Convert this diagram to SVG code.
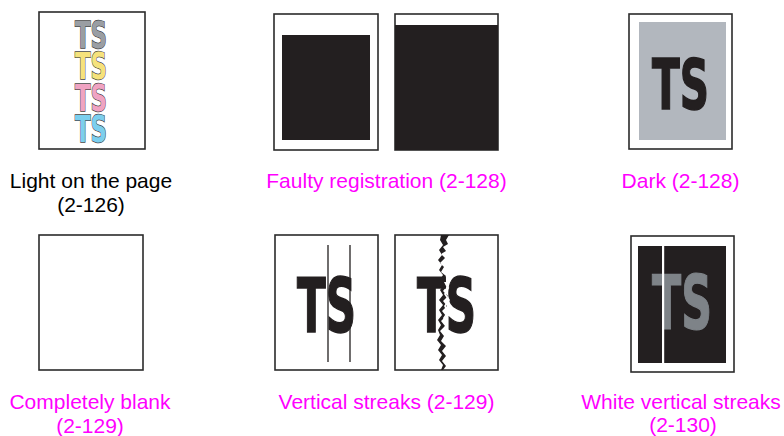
<svg xmlns="http://www.w3.org/2000/svg" width="784" height="436" viewBox="0 0 784 436">
<style>
.page{fill:#fff;stroke:#2b2b2b;stroke-width:1.6}
.blk{fill:#231f20}
.lbl{font-family:"Liberation Sans",Arial,sans-serif;font-size:21px;text-anchor:middle}
.mag{fill:#ff00ff}
.dark{fill:#000}
.ts{font-family:"DejaVu Sans","Liberation Sans",sans-serif;font-weight:bold;font-stretch:condensed}
.tso{stroke:#454545;stroke-width:1.3;paint-order:stroke}
</style>
<rect width="784" height="436" fill="#fff"/>

<g id="light">
<rect class="page" x="39" y="12" width="106" height="137"/>
<text class="ts tso" font-size="37"><tspan x="75" y="48" textLength="32" lengthAdjust="spacingAndGlyphs" fill="#9a9ea3">TS</tspan><tspan x="75" y="78.5" textLength="32" lengthAdjust="spacingAndGlyphs" fill="#f6e27c">TS</tspan><tspan x="75" y="111" textLength="32" lengthAdjust="spacingAndGlyphs" fill="#f0a3c2">TS</tspan><tspan x="75" y="142" textLength="32" lengthAdjust="spacingAndGlyphs" fill="#7ccfee">TS</tspan></text>
<text class="lbl dark" x="91" y="188">Light on the page</text>
<text class="lbl dark" x="91" y="212">(2-126)</text>
</g>

<g id="faulty">
<rect class="page" x="274" y="14" width="104" height="136"/>
<rect class="blk" x="282" y="35" width="88" height="105"/>
<rect class="page" x="395" y="14" width="103" height="136"/>
<rect class="blk" x="395" y="25" width="103" height="125"/>
<text class="lbl mag" x="386.5" y="188">Faulty registration (2-128)</text>
</g>

<g id="dark">
<rect class="page" x="629" y="14" width="103" height="135"/>
<rect x="639" y="22" width="87" height="118" fill="#b2b7be"/>
<text class="ts" x="652" y="109" font-size="69" textLength="57" lengthAdjust="spacingAndGlyphs" fill="#231f20" stroke="#231f20" stroke-width="1.5">TS</text>
<text class="lbl mag" x="680.5" y="188">Dark (2-128)</text>
</g>

<g id="blank">
<rect class="page" x="39" y="235" width="104" height="135"/>
<text class="lbl mag" x="90" y="409">Completely blank</text>
<text class="lbl mag" x="90" y="433">(2-129)</text>
</g>

<g id="vstreaks">
<rect class="page" x="275" y="235" width="103" height="135"/>
<text class="ts" x="297" y="332" font-size="74" textLength="59" lengthAdjust="spacingAndGlyphs" fill="#231f20" stroke="#231f20" stroke-width="1.5">TS</text>
<line x1="328" y1="245" x2="328" y2="362" stroke="#231f20" stroke-width="1.3"/>
<line x1="350" y1="245" x2="350" y2="362" stroke="#231f20" stroke-width="1.3"/>
<rect class="page" x="395" y="235" width="103" height="135"/>
<text class="ts" x="417" y="332" font-size="74" textLength="59" lengthAdjust="spacingAndGlyphs" fill="#231f20" stroke="#231f20" stroke-width="1.5">TS</text>
<path d="M441,235 L449,235 L446,240 L448,244 L443,247 L446,251 L441,254 L445,258 L440,263 L444,267 L441,272 L446,276 L442,281 L447,286 L443,291 L448,296 L443,301 L447,306 L442,311 L446,316 L441,321 L445,326 L440,331 L444,336 L441,341 L446,346 L442,351 L446,356 L442,361 L446,366 L443,370 L441,370 L443,365 L439,360 L442,355 L438,350 L441,345 L437,340 L440,335 L438,330 L441,325 L438,320 L442,315 L439,310 L443,305 L439,300 L443,295 L440,290 L444,285 L440,280 L443,275 L439,270 L442,265 L438,260 L442,255 L439,250 L443,245 L440,240 Z" fill="#231f20"/>
<path d="M444,282 L447,288 L444,294 L448,300 L444,306 L447,312 L443,318 L446,324 L443,330 L445,330 L448,324 L445,318 L449,312 L446,306 L450,300 L446,294 L449,288 L446,282 Z" fill="#fff"/>
<text class="lbl mag" x="386.5" y="409">Vertical streaks (2-129)</text>
</g>

<g id="wvstreaks">
<rect class="page" x="631" y="236" width="103" height="136"/>
<rect class="blk" x="638" y="246" width="88" height="117"/>
<text class="ts" x="652" y="329" font-size="74" textLength="60" lengthAdjust="spacingAndGlyphs" fill="#7e8388" stroke="#7e8388" stroke-width="1.2">TS</text>
<rect x="662" y="246" width="2.2" height="117" fill="#fff"/>
<text class="lbl mag" x="681" y="409">White vertical streaks</text>
<text class="lbl mag" x="683" y="432">(2-130)</text>
</g>
</svg>
